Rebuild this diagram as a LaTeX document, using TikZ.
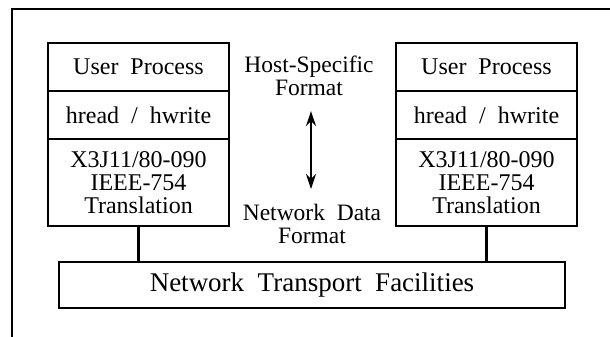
\documentclass[tikz,border=0pt]{standalone}
\usepackage{fontspec}
\setmainfont{Liberation Serif}[WordSpace=2.0]
\usepackage{tikz}
\usetikzlibrary{arrows, arrows.meta, calc, positioning}

\begin{document}
\begin{tikzpicture}[x=1pt, y=-1pt, conv/.style = {line width=2.2pt,{Stealth[length=15pt,width=10pt]}-{Stealth[length=15pt,width=10pt]}}]
		\tikzset{layer/.style={draw=black,line width=2.8pt,inner sep=0pt,align=center,minimum width=181pt,font=\fontsize{24}{23}\selectfont}}
		\tikzset{label/.style={inner sep=0pt,align=center,font=\fontsize{23.5}{23}\selectfont}}
		\useasboundingbox (0,0) rectangle (610,337);

		% outer frame (top and left only)
		\draw[line width=2.2pt] (12,337) -- (12,9) -- (610,9);

		% left host
		\node[layer, minimum height=48pt] at (138.5,67) (lup) {User Process};
		\node[layer, minimum height=48pt] at (138.5,115) (lhr) {hread / hwrite};
		\node[layer, minimum height=87pt] at (138.5,182.5) (ltr) {X3J11/80-090\\IEEE-754\\Translation};

		% right host
		\node[layer, minimum height=48pt] at (486.5,67) (rup) {User Process};
		\node[layer, minimum height=48pt] at (486.5,115) (rhr) {hread / hwrite};
		\node[layer, minimum height=87pt] at (486.5,182.5) (rtr) {X3J11/80-090\\IEEE-754\\Translation};

		\node[layer, minimum width=506pt, minimum height=46pt, font=\fontsize{27}{27}\selectfont] at (312,285) (net) {Network Transport Facilities};

	\node[label] at (309,76) (hostfmt) {Host-Specific\\Format};
	\node[label] at (312,224) (netfmt) {Network Data\\Format};

		\draw [conv, shorten <=15pt, shorten >=15pt] (hostfmt.south -| 311,0) -- (netfmt.north -| 311,0);
		\draw [line width=2.2pt] (ltr.south) -- (ltr.south |- net.north);
		\draw [line width=2.2pt] (rtr.south) -- (rtr.south |- net.north);

	\end{tikzpicture}
\end{document}
